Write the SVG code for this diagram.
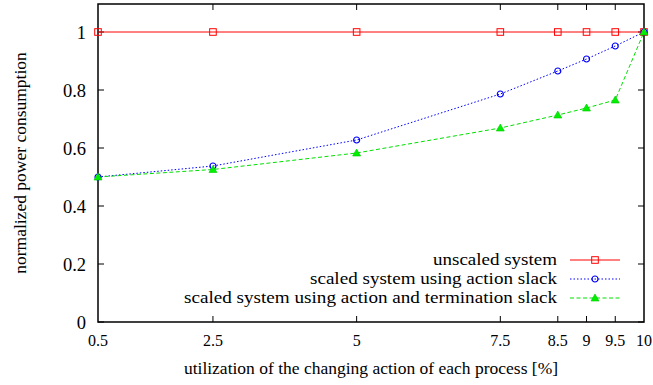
<svg xmlns="http://www.w3.org/2000/svg" width="653" height="385" viewBox="0 0 653 385">
<defs>
<style>
text{font-family:"Liberation Serif","Times New Roman",serif;font-size:16px;fill:#000}
.yl{text-anchor:end;font-size:18.5px}
.xl{text-anchor:middle}
.lab{text-anchor:middle;font-size:17.5px}
.lg{text-anchor:end;font-size:17.5px}
.tick{stroke:#000;stroke-width:1}
.axis{fill:none;stroke:#000;stroke-width:1.5}
.red{fill:none;stroke:#ff0000;stroke-width:1}
.blue{fill:none;stroke:#0000ff;stroke-width:1;stroke-dasharray:1.5 2}
.green{fill:none;stroke:#00e000;stroke-width:1;stroke-dasharray:4 2.5}
.sq{fill:none;stroke:#ff0000;stroke-width:1}
.ci{fill:none;stroke:#0000ff;stroke-width:1.2}
.tr{fill:#00f000;stroke:#00c800;stroke-width:0.6}
</style>
<rect id="msq" x="-3.3" y="-3.3" width="6.6" height="6.6" class="sq"/>
<circle id="mci" r="3" class="ci"/>
<path id="mtr" d="M0,-4 L4,3 L-4,3 Z" class="tr"/>
</defs>
<rect width="653" height="385" fill="#fff"/>
<g id="axes">
<g class="tick">
<path d="M98,322h6M98,264h6M98,206h6M98,148h6M98,90h6M98,32h6"/>
<path d="M644,322h-6M644,264h-6M644,206h-6M644,148h-6M644,90h-6M644,32h-6"/>
<path d="M212.95,322v-6M356.63,322v-6M500.32,322v-6M557.79,322v-6M586.53,322v-6M615.26,322v-6"/>
<path d="M212.95,4v6M356.63,4v6M500.32,4v6M557.79,4v6M586.53,4v6M615.26,4v6"/>
</g>
<rect x="98" y="4" width="546" height="318" class="axis"/>
<text class="yl" x="86" y="328.5">0</text>
<text class="yl" x="86" y="270.5">0.2</text>
<text class="yl" x="86" y="212.5">0.4</text>
<text class="yl" x="86" y="154.5">0.6</text>
<text class="yl" x="86" y="96.5">0.8</text>
<text class="yl" x="86" y="38.5">1</text>
<text class="xl" x="98" y="346">0.5</text>
<text class="xl" x="212.95" y="346">2.5</text>
<text class="xl" x="356.63" y="346">5</text>
<text class="xl" x="500.32" y="346">7.5</text>
<text class="xl" x="557.79" y="346">8.5</text>
<text class="xl" x="586.53" y="346">9</text>
<text class="xl" x="615.26" y="346">9.5</text>
<text class="xl" x="644" y="346">10</text>
<text class="lab" x="371" y="374">utilization of the changing action of each process [%]</text>
<text class="lab" transform="translate(25.5,163) rotate(-90)">normalized power consumption</text>
</g>
<g id="connectors">
<polyline id="s-unscaled" class="red" points="98,32 212.95,32 356.63,32 500.32,32 557.79,32 586.53,32 615.26,32 644,32"/>
<polyline id="s-action" class="blue" points="98,177 212.95,166 356.63,140 500.32,94 557.79,71 586.53,59 615.26,46 644,32"/>
<polyline id="s-term" class="green" points="98,177 212.95,169.5 356.63,153 500.32,128 557.79,115 586.53,108 615.26,100 644,32"/>
<line class="red" x1="570" y1="260" x2="620" y2="260"/>
<line class="blue" x1="570" y1="279" x2="620" y2="279"/>
<line class="green" x1="570" y1="298" x2="620" y2="298"/>
</g>
<g id="markers-unscaled">
<use href="#msq" x="98" y="32"/><use href="#msq" x="212.95" y="32"/><use href="#msq" x="356.63" y="32"/><use href="#msq" x="500.32" y="32"/><use href="#msq" x="557.79" y="32"/><use href="#msq" x="586.53" y="32"/><use href="#msq" x="615.26" y="32"/><use href="#msq" x="644" y="32"/>
</g>
<g id="markers-action">
<use href="#mci" x="98" y="177"/><use href="#mci" x="212.95" y="166"/><use href="#mci" x="356.63" y="140"/><use href="#mci" x="500.32" y="94"/><use href="#mci" x="557.79" y="71"/><use href="#mci" x="586.53" y="59"/><use href="#mci" x="615.26" y="46"/><use href="#mci" x="644" y="32"/>
</g>
<g id="markers-term">
<use href="#mtr" x="98" y="177"/><use href="#mtr" x="212.95" y="169.5"/><use href="#mtr" x="356.63" y="153"/><use href="#mtr" x="500.32" y="128"/><use href="#mtr" x="557.79" y="115"/><use href="#mtr" x="586.53" y="108"/><use href="#mtr" x="615.26" y="100"/><use href="#mtr" x="644" y="32"/>
</g>
<g id="legend">
<text class="lg" x="557" y="265" textLength="124" lengthAdjust="spacingAndGlyphs">unscaled system</text>
<text class="lg" x="557" y="284" textLength="247" lengthAdjust="spacingAndGlyphs">scaled system using action slack</text>
<text class="lg" x="557" y="303" textLength="373" lengthAdjust="spacingAndGlyphs">scaled system using action and termination slack</text>
<use href="#msq" x="595" y="260"/>
<use href="#mci" x="595" y="279"/>
<use href="#mtr" x="595" y="298"/>
</g>
</svg>
